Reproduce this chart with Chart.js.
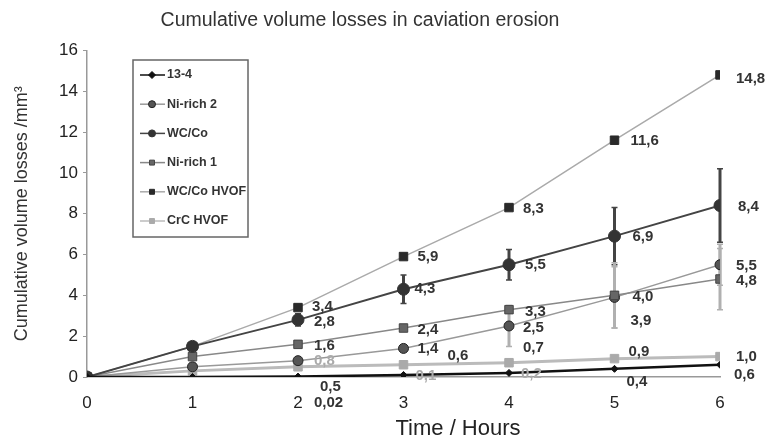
<!DOCTYPE html>
<html>
<head>
<meta charset="utf-8">
<script src="https://cdn.jsdelivr.net/npm/chart.js@4.4.0/dist/chart.umd.min.js"></script>
<style>
  html, body { margin: 0; padding: 0; background: #fff; }
  #wrap { width: 771px; height: 436px; }
</style>
</head>
<body>
<div id="wrap"><canvas id="chart" width="771" height="436"></canvas></div>
<script>
const hours = [0, 1, 2, 3, 4, 5, 6];
const names = ["13-4", "Ni-rich 2", "WC/Co", "Ni-rich 1", "WC/Co HVOF", "CrC HVOF"];

const s134      = [0, 0, 0.02, 0.1, 0.2, 0.4, 0.6];
const sNiRich2  = [0, 0.5, 0.8, 1.4, 2.5, 3.9, 5.5];
const sWCCo     = [0, 1.5, 2.8, 4.3, 5.5, 6.9, 8.4];
const sNiRich1  = [0, 1.0, 1.6, 2.4, 3.3, 4.0, 4.8];
const sWCCoHVOF = [0, 1.5, 3.4, 5.9, 8.3, 11.6, 14.8];
const sCrCHVOF  = [0, 0.3, 0.5, 0.6, 0.7, 0.9, 1.0];

// error bars (+/-)
const errWCCo    = [0, 0, 0.3, 0.7, 0.75, 1.4, 1.8];
const errNiRich2 = [0, 0, 0, 0, 1.0, 1.5, 1.0];
const errNiRich1 = [0, 0, 0, 0, 0, 1.6, 1.5];

const yTicks = [0, 2, 4, 6, 8, 10, 12, 14, 16];

const series = [s134, sNiRich2, sWCCo, sNiRich1, sWCCoHVOF, sCrCHVOF];
const errs = [null, errNiRich2, errWCCo, errNiRich1, null, null];

// label offsets [dx, dy] per point (null = no label)
const labelPos = [
  [null, null, [16, 26], [12, 1], [12, 1], [12, 13], [14, 10]],
  [null, null, [16, 0], [14, 0], [14, 2], [16, 23], [16, 1]],
  [null, null, [16, 2], [11, 0], [16, 0], [18, 1], [18, 1]],
  [null, null, [16, 2], [14, 2], [16, 2], [18, 2], [16, 2]],
  [null, null, [14, -1], [14, 0], [14, 1], [16, 1], [16, 4]],
  [null, null, [22, 20], [44, -9], [14, -15], [14, -7], [16, 0]]
];
const faintLabels = ["0-3", "0-4", "1-2"];

const styles = [
  { line: "#111", width: 2.5, point: "rectRot", r: 3.5, fill: "#111", border: "#111" },
  { line: "#999", width: 1.5, point: "circle", r: 5, fill: "#555", border: "#222" },
  { line: "#444", width: 2, point: "circle", r: 6, fill: "#333", border: "#333" },
  { line: "#888", width: 1.5, point: "rect", r: 6, fill: "#666", border: "#444" },
  { line: "#aaa", width: 1.5, point: "rect", r: 6, fill: "#2a2a2a", border: "#2a2a2a" },
  { line: "#bbb", width: 3, point: "rect", r: 6, fill: "#aaa", border: "#aaa" }
];

const fmt = (v) => {
  const one = Math.abs(v * 10 - Math.round(v * 10)) < 1e-9;
  return (one ? v.toFixed(1) : String(v)).replace(".", ",");
};

const datasets = series.map((vals, i) => ({
  label: names[i],
  data: hours.map((h, j) => ({ x: h, y: vals[j] })),
  borderColor: styles[i].line,
  borderWidth: styles[i].width,
  pointStyle: styles[i].point,
  pointRadius: styles[i].r,
  pointBackgroundColor: styles[i].fill,
  pointBorderColor: styles[i].border,
  pointBorderWidth: 1,
  tension: 0,
}));

// draw order: light lines first, dark on top
const order = [4, 5, 1, 3, 2, 0];
order.forEach((d, k) => { datasets[d].order = 6 - k; });

const errorBars = {
  id: "errorBars",
  beforeDatasetsDraw(chart) {
    const { ctx, scales: { x, y } } = chart;
    errs.forEach((e, i) => {
      if (!e) return;
      ctx.save();
      ctx.strokeStyle = i === 2 ? "#444" : "#b0b0b0";
      e.forEach((d, j) => {
        if (!d) return;
        const px = x.getPixelForValue(hours[j]);
        const top = y.getPixelForValue(series[i][j] + d);
        const bot = y.getPixelForValue(series[i][j] - d);
        ctx.lineWidth = 3;
        ctx.beginPath();
        ctx.moveTo(px, top); ctx.lineTo(px, bot);
        ctx.stroke();
        ctx.lineWidth = 1.5;
        ctx.beginPath();
        ctx.moveTo(px - 3, top); ctx.lineTo(px + 3, top);
        ctx.moveTo(px - 3, bot); ctx.lineTo(px + 3, bot);
        ctx.stroke();
      });
      ctx.restore();
    });
  }
};

const valueLabels = {
  id: "valueLabels",
  afterDatasetsDraw(chart) {
    const { ctx, scales: { x, y } } = chart;
    ctx.save();
    ctx.font = "bold 15px 'Liberation Sans', Arial, sans-serif";
    ctx.textBaseline = "middle";
    ctx.textAlign = "left";
    series.forEach((vals, i) => {
      vals.forEach((v, j) => {
        const p = labelPos[i][j];
        if (!p) return;
        ctx.fillStyle = faintLabels.includes(i + "-" + j) ? "#aaa" : "#333";
        ctx.fillText(fmt(v), x.getPixelForValue(hours[j]) + p[0], y.getPixelForValue(v) + p[1]);
      });
    });
    ctx.restore();
  }
};

const boxLegend = {
  id: "boxLegend",
  afterDraw(chart) {
    const ctx = chart.ctx;
    ctx.save();
    ctx.fillStyle = "#fff";
    ctx.fillRect(133, 60, 115, 177);
    ctx.strokeStyle = "#666";
    ctx.lineWidth = 1.5;
    ctx.strokeRect(133, 60, 115, 177);
    ctx.font = "bold 12.5px 'Liberation Sans', Arial, sans-serif";
    ctx.textBaseline = "middle";
    names.forEach((n, i) => {
      const yy = 75 + i * 29.2;
      ctx.strokeStyle = styles[i].line;
      ctx.lineWidth = 1.5;
      ctx.beginPath();
      ctx.moveTo(140, yy); ctx.lineTo(165, yy);
      ctx.stroke();
      ctx.fillStyle = styles[i].fill;
      ctx.strokeStyle = styles[i].border;
      ctx.lineWidth = 1;
      Chart.helpers.drawPoint(ctx, { pointStyle: styles[i].point, rotation: 0, radius: 3.5, borderWidth: 1 }, 152, yy);
      ctx.fillStyle = "#333";
      ctx.fillText(n, 167, yy);
    });
    ctx.restore();
  }
};

// x axis title sits right of centre in the original
const xTitle = {
  id: "xTitle",
  afterDraw(chart) {
    const ctx = chart.ctx;
    ctx.save();
    ctx.font = "22px 'Liberation Sans', Arial, sans-serif";
    ctx.fillStyle = "#222";
    ctx.textAlign = "center";
    ctx.textBaseline = "middle";
    ctx.fillText("Time / Hours", 458, 429);
    ctx.restore();
  }
};

new Chart(document.getElementById("chart"), {
  type: "line",
  data: { datasets },
  options: {
    responsive: false,
    animation: false,
    layout: { padding: { left: 0, right: 51, top: 0, bottom: 0 } },
    scales: {
      x: {
        type: "linear",
        min: 0,
        max: 6,
        afterFit: (s) => { s.height = 59; },
        afterBuildTicks: (s) => { s.ticks = hours.map((v) => ({ value: v })); },
        grid: { display: false, drawTicks: false },
        border: { display: true, color: "#999", width: 1.5 },
        ticks: { padding: 16, color: "#222", font: { size: 17, family: "'Liberation Sans', Arial" } },
        title: { display: false }
      },
      y: {
        min: 0,
        max: 16,
        afterFit: (s) => { s.width = 87; },
        afterBuildTicks: (s) => { s.ticks = yTicks.map((v) => ({ value: v })); },
        grid: { drawOnChartArea: false, drawTicks: true, tickLength: 4, color: "#999" },
        border: { display: true, color: "#999", width: 1.5 },
        ticks: { padding: 5, color: "#222", font: { size: 17, family: "'Liberation Sans', Arial" } },
        title: {
          display: true, text: "Cumulative volume losses /mm³", color: "#333",
          font: { size: 18, family: "'Liberation Sans', Arial" }, padding: { top: 11, bottom: 2 }
        }
      }
    },
    plugins: {
      legend: { display: false },
      tooltip: { enabled: false },
      title: {
        display: true,
        text: "Cumulative volume losses in caviation erosion",
        color: "#333",
        font: { size: 19.5, weight: "normal", family: "'Liberation Sans', Arial" },
        padding: { top: 9, bottom: 18 }
      }
    }
  },
  plugins: [errorBars, valueLabels, boxLegend, xTitle]
});
</script>
</body>
</html>
